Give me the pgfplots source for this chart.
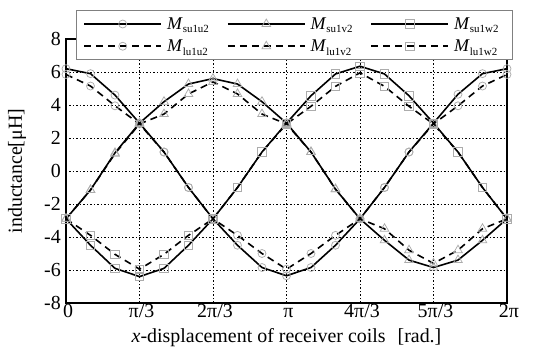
\documentclass[border=0pt]{standalone}
\usepackage{fontspec}
\setmainfont{Liberation Serif}
\usepackage{pgfplots}
\usepackage{pgfplotstable}
\pgfplotsset{compat=1.18}

\pgfplotstableread{
k suu suv suw luu luv luw
0 6.20 -2.90 -2.90 5.85 -2.90 -2.90
1 5.90 -1.15 -4.50 5.15 -1.15 -3.90
2 4.60 1.10 -5.90 3.95 1.05 -5.05
3 2.90 2.90 -6.40 2.85 2.85 -5.95
4 1.15 4.20 -5.90 1.15 3.45 -5.05
5 -1.00 5.27 -4.50 -1.00 4.67 -3.90
6 -2.90 5.60 -2.90 -2.90 5.40 -2.90
7 -4.50 5.27 -1.00 -3.90 4.67 -1.00
8 -5.85 4.20 1.15 -5.00 3.45 1.15
9 -6.35 2.90 2.90 -5.95 2.85 2.85
10 -5.85 1.15 4.56 -5.00 1.15 3.92
11 -4.50 -1.10 5.88 -3.90 -1.10 5.13
12 -2.90 -2.90 6.35 -2.90 -2.90 5.95
13 -1.00 -4.20 5.88 -1.00 -3.50 5.13
14 1.15 -5.40 4.56 1.15 -4.80 3.92
15 2.90 -5.85 2.90 2.85 -5.60 2.85
16 4.65 -5.40 1.15 3.95 -4.80 1.15
17 5.90 -4.20 -1.00 5.15 -3.50 -1.00
18 6.20 -2.90 -2.90 5.85 -2.90 -2.90
}\data

\newcommand\Msub[1]{\makebox[49bp][l]{\textit{M}\raisebox{-0.45ex}{\fontsize{11}{11}\selectfont #1}}}

\begin{document}
\begin{tikzpicture}
\path (-66bp,-46bp) rectangle (473bp,303bp);
\begin{axis}[
  at={(0,0)}, anchor=south west,
  scale only axis, width=441bp, height=264bp,
  xmin=0, xmax=18, ymin=-8, ymax=8,
  xtick={0,3,...,18},
  xticklabels={0,π/3,2π/3,π,4π/3,5π/3,2π},
  ytick={-8,-6,...,8},
  yticklabels={-8,-6,-4,-2,0,2,4,6,8},
  major tick length=0pt,
  grid=major,
  major grid style={black, line width=0.7bp, dash pattern=on 1.5bp off 2bp},
  extra y ticks={0}, extra y tick labels={},
  extra y tick style={grid style={solid, black, line width=0.8bp}},
  axis line style={line width=1.3bp},
  tick label style={font=\fontsize{20}{22}\selectfont},
  xticklabel style={anchor=base, inner sep=0bp, yshift=-15bp, xshift=2bp},
  yticklabel style={anchor=east, inner sep=0bp, xshift=-5bp},
  xlabel={\textit{x}-displacement of receiver coils\hspace{0.6em}[rad.]},
  xlabel style={at={(axis description cs:0.5,-0.148)}, anchor=base, font=\fontsize{20}{22}\selectfont},
  ylabel={inductance[μH]},
  ylabel style={at={(axis description cs:-0.111,0.5)}, anchor=center, font=\fontsize{20}{22}\selectfont},
  legend columns=3,
  legend cell align=left,
  legend style={at={(axis description cs:0.0227,1.1098)}, anchor=north west,
    draw=gray, line width=0.8bp, fill=white,
    font=\fontsize{18}{20}\selectfont,
    inner xsep=7bp, inner ysep=5bp, row sep=5bp,
    /tikz/every odd column/.append style={column sep=3bp},
    /tikz/every even column/.append style={column sep=9bp}},
  legend image code/.code={\draw[mark repeat=2,mark phase=2] plot coordinates {(0bp,0bp) (38.5bp,0bp) (77bp,0bp)};},
  sl/.style={black, line width=1.6bp, mark options={solid, draw=gray!65, line width=0.75bp, fill=none}},
  dl/.style={black, line width=1.6bp, dash pattern=on 7bp off 5bp, mark options={solid, draw=gray!65, line width=0.75bp, fill=none}},
]
\addplot[sl, mark=o, mark size=4bp] table[x=k, y=suu] {\data};
\addlegendentry{\Msub{su1u2}}
\addplot[sl, mark=triangle, mark size=5bp] table[x=k, y=suv] {\data};
\addlegendentry{\Msub{su1v2}}
\addplot[sl, mark=square, mark size=4.2bp] table[x=k, y=suw] {\data};
\addlegendentry{\Msub{su1w2}}
\addplot[dl, mark=o, mark size=4bp] table[x=k, y=luu] {\data};
\addlegendentry{\Msub{lu1u2}}
\addplot[dl, mark=triangle, mark size=5bp] table[x=k, y=luv] {\data};
\addlegendentry{\Msub{lu1v2}}
\addplot[dl, mark=square, mark size=4.2bp] table[x=k, y=luw] {\data};
\addlegendentry{\Msub{lu1w2}}
\end{axis}
\end{tikzpicture}
\end{document}
